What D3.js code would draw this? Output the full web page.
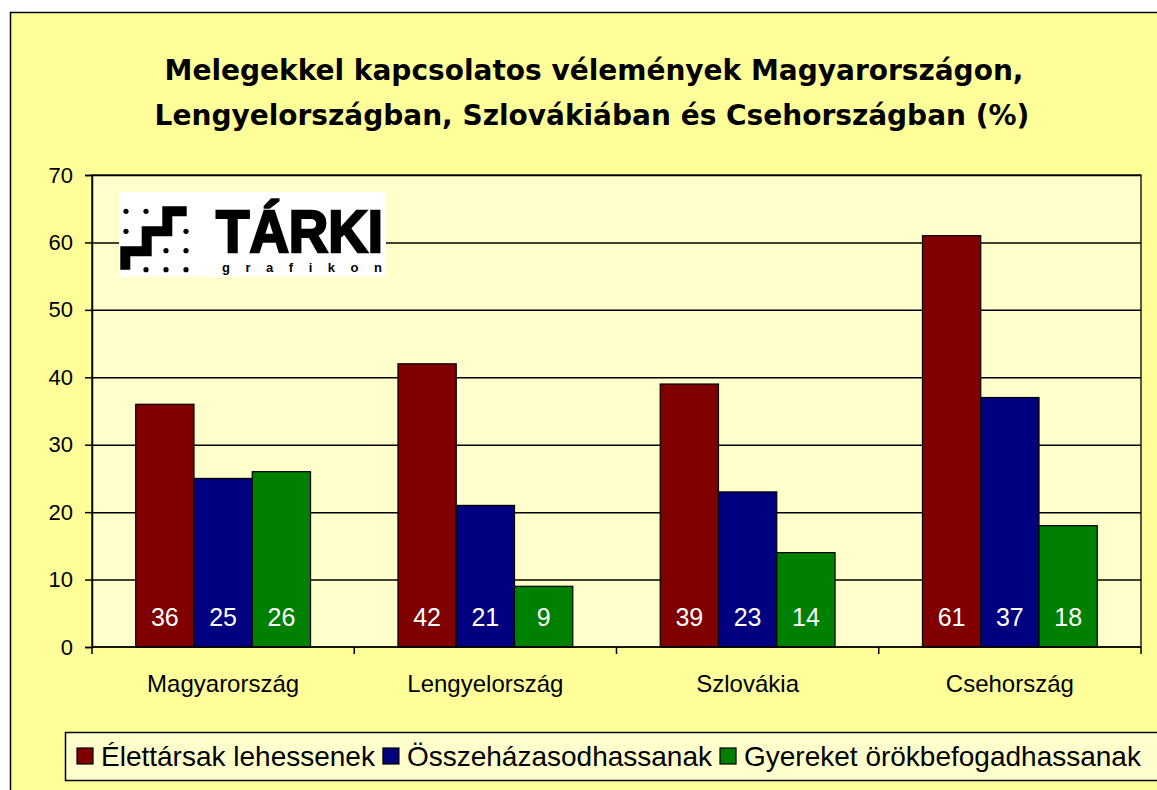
<!DOCTYPE html>
<meta charset="utf-8">
<style>
body { margin: 0; background: #fff; }
text { font-family: "Liberation Sans", Arial, sans-serif; }
.title { font-family: "DejaVu Sans", Verdana, sans-serif; font-weight: bold; }
</style>
<svg width="1157" height="790"></svg>
<script src="https://d3js.org/d3.v7.min.js"></script>
<script>
// categories and series
const countries = ["Magyarország", "Lengyelország", "Szlovákia", "Csehország"];
const seriesNames = ["Élettársak lehessenek", "Összeházasodhassanak", "Gyereket örökbefogadhassanak"];
const elettars = [36, 42, 39, 61];
const hazasodas = [25, 21, 23, 37];
const orokbefogadas = [26, 9, 14, 18];
const yTicks = [0, 10, 20, 30, 40, 50, 60, 70];
const colors = ["#800000", "#000080", "#008000"];

const seriesValues = [elettars, hazasodas, orokbefogadas];

const svg = d3.select("svg");

// chart area background
svg.append("rect")
    .attr("x", 10.5).attr("y", 12.5)
    .attr("width", 1160).attr("height", 800)
    .attr("fill", "#ffff99")
    .attr("stroke", "#000").attr("stroke-width", 1.5);

// title
const title = svg.append("text")
    .attr("class", "title")
    .attr("text-anchor", "middle")
    .attr("font-size", 28);
title.append("tspan").attr("x", 594).attr("y", 80).text("Melegekkel kapcsolatos vélemények Magyarországon,");
title.append("tspan").attr("x", 592).attr("y", 125).text("Lengyelországban, Szlovákiában és Csehországban (%)");

const plot = {left: 92, top: 175, right: 1141, bottom: 647};

const x0 = d3.scaleBand()
    .domain(countries)
    .range([plot.left, plot.right]);
// 150% gap width: 3 bars + 1.5 bar widths of gap
const x1 = d3.scaleBand()
    .domain(d3.range(seriesNames.length))
    .range([0, x0.bandwidth()])
    .paddingInner(0)
    .paddingOuter(0.75);

const y = d3.scaleLinear()
    .domain([0, 70])
    .range([plot.bottom, plot.top]);

// plot area
svg.append("rect")
    .attr("x", plot.left).attr("y", plot.top)
    .attr("width", plot.right - plot.left).attr("height", plot.bottom - plot.top)
    .attr("fill", "#ffffcc")
    .attr("stroke", "#222").attr("stroke-width", 1.5);

// gridlines
svg.append("g")
    .attr("transform", `translate(${plot.left},0)`)
    .call(d3.axisLeft(y).tickValues(yTicks.slice(1)).tickSize(-(plot.right - plot.left)).tickFormat(""))
    .call(g => g.select(".domain").remove())
    .call(g => g.selectAll("line").attr("stroke", "#000").attr("stroke-width", 1.5));

// logo
const logo = svg.append("g").attr("transform", "translate(119,192)");
logo.append("rect").attr("width", 267).attr("height", 85).attr("fill", "#fff");
logo.append("path")
    .attr("d", "M6.3,77.7V59.3H27.7V39.3H48.3V19.3H67.7")
    .attr("fill", "none").attr("stroke", "#000")
    .attr("stroke-width", 10).attr("stroke-linejoin", "miter");
const dots = [[7,19.3],[27,19.3],[7,39.3],[67,39.3],[47,58.7],[67,58.7],[27,77.7],[47,77.7],[67,77.7]];
logo.selectAll("circle").data(dots).enter().append("circle")
    .attr("cx", d => d[0]).attr("cy", d => d[1]).attr("r", 2.6).attr("fill", "#000");
logo.append("text")
    .attr("x", 97).attr("y", 60)
    .attr("font-family", "'DejaVu Sans Condensed', 'DejaVu Sans', sans-serif")
    .attr("font-weight", "bold").attr("font-size", 60)
    .attr("stroke", "#000").attr("stroke-width", 2.5)
    .attr("textLength", 167).attr("lengthAdjust", "spacingAndGlyphs")
    .text("TÁRKI");
logo.append("text")
    .attr("x", 103).attr("y", 80)
    .attr("font-family", "'DejaVu Sans', sans-serif")
    .attr("font-weight", "bold").attr("font-size", 13)
    .attr("textLength", 160)
    .text("grafikon");

// bars
const groups = svg.append("g").selectAll("g")
    .data(countries)
    .enter().append("g")
    .attr("transform", d => `translate(${x0(d)},0)`);

groups.selectAll("rect")
    .data((c, i) => seriesValues.map((s, k) => ({k: k, v: s[i]})))
    .enter().append("rect")
    .attr("x", d => x1(d.k))
    .attr("y", d => y(d.v))
    .attr("width", x1.bandwidth())
    .attr("height", d => y(0) - y(d.v))
    .attr("fill", d => colors[d.k])
    .attr("stroke", "#000").attr("stroke-width", 1.2);

groups.selectAll("text")
    .data((c, i) => seriesValues.map((s, k) => ({k: k, v: s[i]})))
    .enter().append("text")
    .attr("x", d => x1(d.k) + x1.bandwidth() / 2)
    .attr("y", y(0) - 21)
    .attr("text-anchor", "middle")
    .attr("font-size", 25)
    .attr("fill", "#fff")
    .text(d => d.v);

// y axis
svg.append("g")
    .attr("transform", `translate(${plot.left},0)`)
    .call(d3.axisLeft(y).tickValues(yTicks).tickSize(7).tickPadding(12))
    .call(g => g.select(".domain").attr("stroke", "#000").attr("stroke-width", 1.5))
    .call(g => g.selectAll("line").attr("stroke", "#000").attr("stroke-width", 1.5))
    .call(g => g.selectAll("text").attr("font-size", 22).attr("font-family", "'Liberation Sans', Arial, sans-serif").attr("fill", "#000"));

// x axis: ticks between categories, labels at centres
const xAxis = svg.append("g").attr("transform", `translate(0,${plot.bottom})`);
xAxis.append("line")
    .attr("x1", plot.left).attr("x2", plot.right)
    .attr("stroke", "#000").attr("stroke-width", 1.5);
xAxis.selectAll(".tick")
    .data(countries.map(c => x0(c)).concat([plot.right]))
    .enter().append("line")
    .attr("x1", d => d).attr("x2", d => d)
    .attr("y1", 0).attr("y2", 7)
    .attr("stroke", "#000").attr("stroke-width", 1.5);
xAxis.selectAll("text")
    .data(countries)
    .enter().append("text")
    .attr("x", d => x0(d) + x0.bandwidth() / 2)
    .attr("y", 45)
    .attr("text-anchor", "middle")
    .attr("font-size", 24)
    .text(d => d);

// legend
const legend = svg.append("g");
legend.append("rect")
    .attr("x", 65.5).attr("y", 732.5)
    .attr("width", 1120).attr("height", 48)
    .attr("fill", "#ffffcc")
    .attr("stroke", "#000").attr("stroke-width", 1.5);
let lx = 77;
seriesNames.forEach((name, k) => {
    legend.append("rect")
        .attr("x", lx).attr("y", 748)
        .attr("width", 16).attr("height", 16)
        .attr("fill", colors[k])
        .attr("stroke", "#000").attr("stroke-width", 1.2);
    const t = legend.append("text")
        .attr("x", lx + 24).attr("y", 766)
        .attr("font-size", 28)
        .text(name);
    lx += 24 + t.node().getComputedTextLength() + 8;
});
</script>
